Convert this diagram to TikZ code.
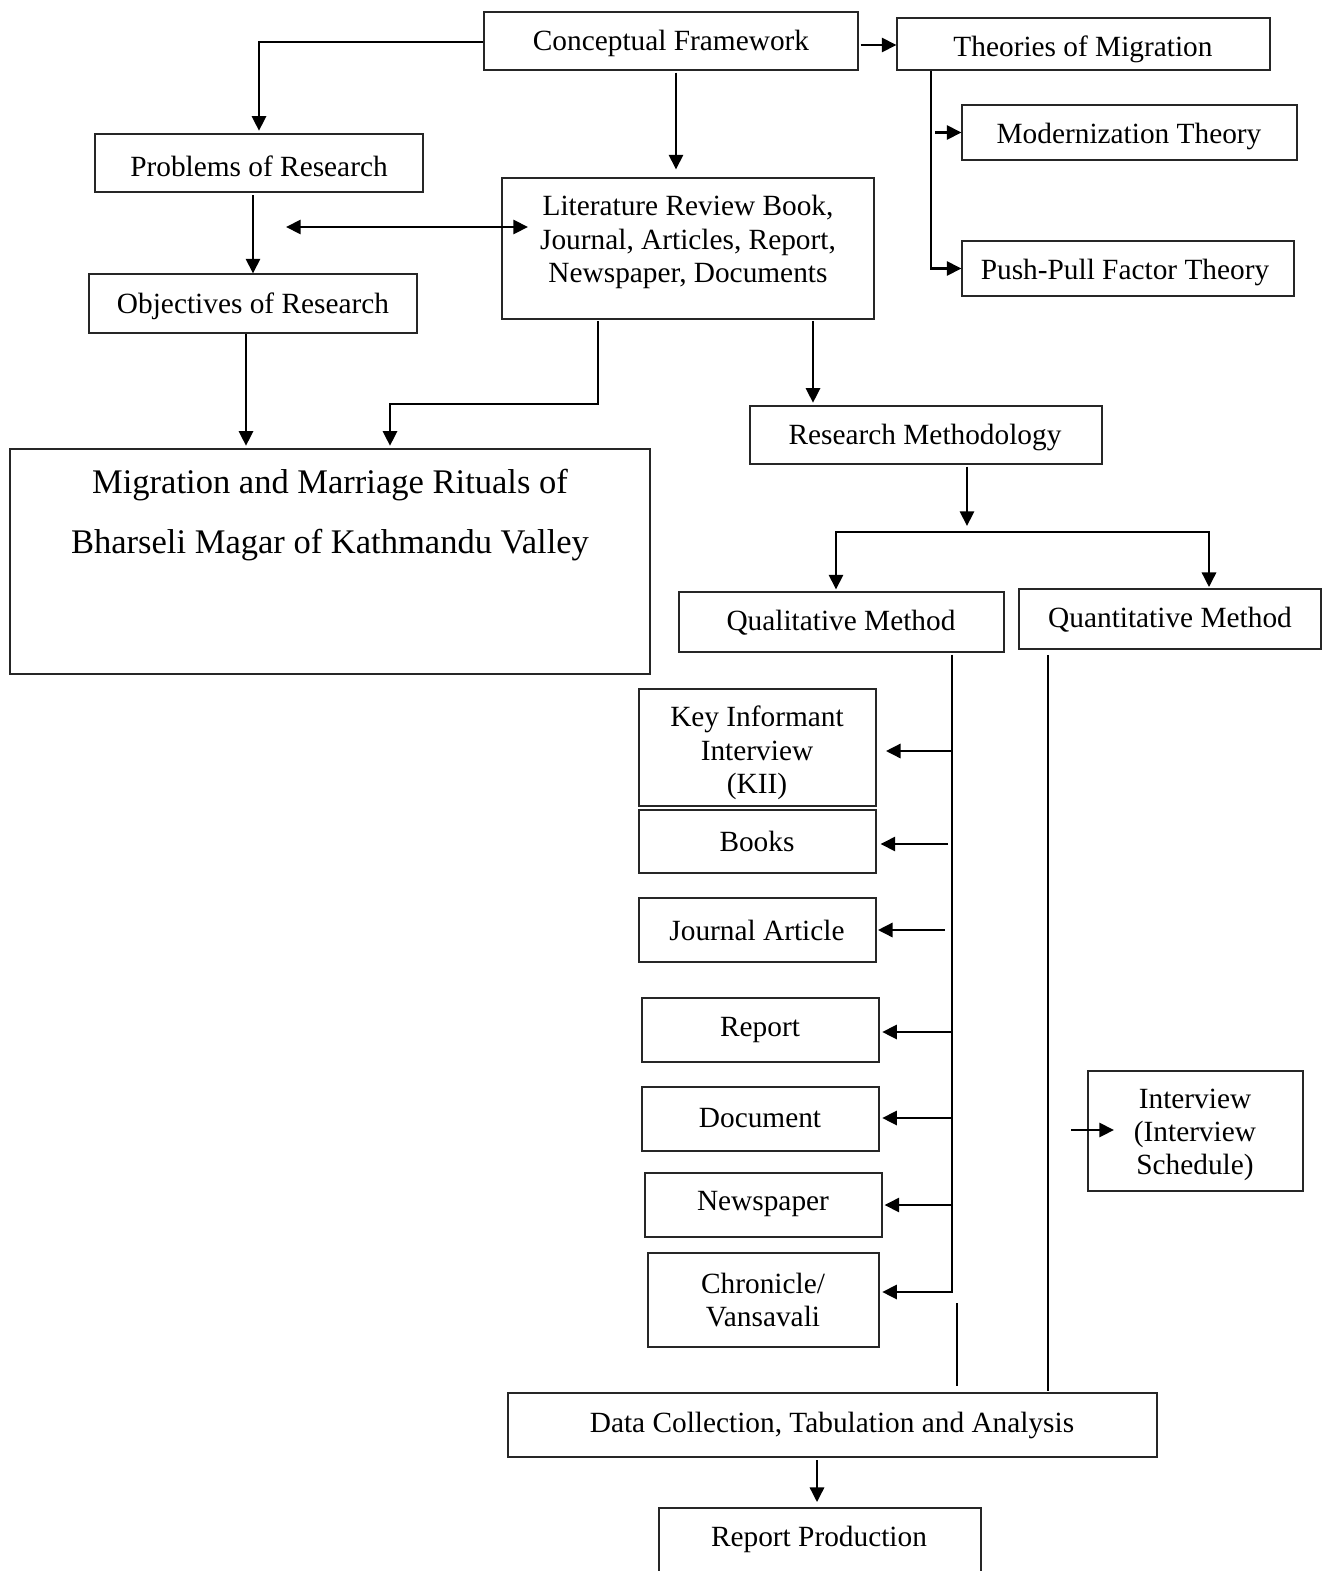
\documentclass[tikz,border=0pt]{standalone}
\usepackage{fontspec}
\setmainfont{Liberation Serif}
\usetikzlibrary{fit,arrows.meta}
\begin{document}
\begin{tikzpicture}[x=0.75pt,y=-0.75pt,
  box/.style={draw=black!85,line width=0.8pt,inner sep=0pt},
  txt/.style={inner sep=0pt,align=center,font=\fontsize{22}{25}\selectfont},
  conn/.style={line width=2.2pt,black},
  arr/.style={conn,-{Triangle[length=11pt,width=10.5pt]}},
  darr/.style={conn,{Triangle[length=11pt,width=10.5pt]}-{Triangle[length=11pt,width=10.5pt]}}]
\useasboundingbox (0,0) rectangle (1331,1571);
% boxes
\node[box,fit={(484,12)(858,70)}] (cf) {};
\node[txt] (cfT) at (671,43) {Conceptual Framework};
\node[box,fit={(897,18)(1270,70)}] (theo) {};
\node[txt] (theoT) at (1083,49) {Theories of Migration};
\node[box,fit={(962,105)(1297,160)}] (mod) {};
\node[txt] (modT) at (1129,136) {Modernization Theory};
\node[box,fit={(962,241)(1294,296)}] (push) {};
\node[txt] (pushT) at (1125,272) {Push-Pull Factor Theory};
\node[box,fit={(95,134)(423,192)}] (prob) {};
\node[txt] (probT) at (259,166) {Problems of Research};
\node[box,fit={(502,178)(874,319)}] (lit) {};
\node[txt] (litT) at (688,242) {Literature Review Book,\\Journal, Articles, Report,\\Newspaper, Documents};
\node[box,fit={(89,274)(417,333)}] (obj) {};
\node[txt] (objT) at (253,306) {Objectives of Research};
\node[box,fit={(10,449)(650,674)}] (mig) {};
\node[txt,font=\fontsize{25.9}{45}\selectfont] (migT) at (330,515) {Migration and Marriage Rituals of\\Bharseli Magar of Kathmandu Valley};
\node[box,fit={(750,406)(1102,464)}] (rm) {};
\node[txt] (rmT) at (925,437) {Research Methodology};
\node[box,fit={(679,592)(1004,652)}] (qual) {};
\node[txt] (qualT) at (841,623) {Qualitative Method};
\node[box,fit={(1019,589)(1321,649)}] (quan) {};
\node[txt] (quanT) at (1170,620) {Quantitative Method};
\node[box,fit={(639,689)(876,806)}] (kii) {};
\node[txt] (kiiT) at (757,753) {Key Informant\\Interview\\(KII)};
\node[box,fit={(639,810)(876,873)}] (books) {};
\node[txt] (booksT) at (757,841) {Books};
\node[box,fit={(639,898)(876,962)}] (jour) {};
\node[txt] (jourT) at (757,930) {Journal Article};
\node[box,fit={(642,998)(879,1062)}] (rep) {};
\node[txt] (repT) at (760,1030) {Report};
\node[box,fit={(642,1087)(879,1151)}] (doc) {};
\node[txt] (docT) at (760,1118) {Document};
\node[box,fit={(645,1173)(882,1237)}] (news) {};
\node[txt] (newsT) at (763,1204) {Newspaper};
\node[box,fit={(648,1253)(879,1347)}] (chron) {};
\node[txt] (chronT) at (763,1300) {Chronicle/\\Vansavali};
\node[box,fit={(1088,1071)(1303,1191)}] (intv) {};
\node[txt] (intvT) at (1195,1135) {Interview\\(Interview\\Schedule)};
\node[box,fit={(508,1393)(1157,1457)}] (data) {};
\node[txt] (dataT) at (832,1425) {Data Collection, Tabulation and Analysis};
\node[box,fit={(659,1508)(981,1590)}] (rp) {};
\node[txt] (rpT) at (819,1539) {Report Production};
% helper coordinates
\coordinate (c676) at (676,0);
\coordinate (c931) at (931,0);
\coordinate (c934) at (935,0);
\coordinate (c253) at (253,0);
\coordinate (c246) at (246,0);
\coordinate (c598) at (598,0);
\coordinate (k1) at (390,404);
\coordinate (c813) at (813,0);
\coordinate (bj) at (967,526);
\coordinate (bl) at (836,532);
\coordinate (br) at (1209,532);
\coordinate (q1) at (952,1292);
\coordinate (a1) at (952,751);
\coordinate (a2) at (948,844);
\coordinate (a3) at (945,930);
\coordinate (a4) at (952,1032);
\coordinate (a5) at (952,1118);
\coordinate (a6) at (952,1205);
\coordinate (s1) at (957,1303);
\coordinate (c1048) at (1048,0);
\coordinate (ia) at (1071,1130);
\coordinate (ib) at (1114,1130);
\coordinate (c817) at (817,0);
\coordinate (dl) at (286,227);
\coordinate (dr) at (528,227);
% connectors
\draw[arr,shorten >=2pt] (cf.west |- 0,42) -| (prob.north);
\draw[arr,shorten <=1.5pt,shorten >=6pt] (cf.south -| c676) -- (lit.north -| c676);
\draw[arr,shorten <=1.5pt] (cf.east |- 0,45) -- (theo.west |- 0,45);
\draw[arr] (theo.south -| c931) |- (push.west);
\draw[arr] (c934 |- mod.west) -- (mod.west);
\draw[arr,shorten <=2pt] (prob.south -| c253) -- (obj.north -| c253);
\draw[darr] (dl) -- (dr);
\draw[arr,shorten >=2pt] (obj.south -| c246) -- (mig.north -| c246);
\draw[arr,shorten <=1pt,shorten >=2pt] (lit.south -| c598) |- (k1) -- (mig.north -| k1);
\draw[arr,shorten <=1pt,shorten >=2pt] (lit.south -| c813) -- (rm.north -| c813);
\draw[arr,shorten <=1.5pt] (rm.south -| bj) -- (bj);
\draw[darr,shorten <=1.5pt,shorten >=1pt] (qual.north -| bl) |- (br) -- (quan.north -| br);
\draw[arr,shorten <=1.5pt,shorten >=2pt] (qual.south -| q1) -- (q1) -- (chron.east |- q1);
\draw[arr,shorten >=7pt] (a1) -- (kii.east |- a1);
\draw[arr,shorten >=3pt] (a2) -- (books.east |- a2);
\draw[arr,shorten >=1pt] (a3) -- (jour.east |- a3);
\draw[arr,shorten >=2pt] (a4) -- (rep.east |- a4);
\draw[arr,shorten >=2pt] (a5) -- (doc.east |- a5);
\draw[arr,shorten >=1.5pt] (a6) -- (news.east |- a6);
\draw[conn,shorten >=5pt] (s1) -- (data.north -| s1);
\draw[conn,shorten <=4pt,shorten >=1pt] (quan.south -| c1048) -- (data.north -| c1048);
\draw[arr] (ia) -- (ib);
\draw[arr,shorten <=2pt,shorten >=4pt] (data.south -| c817) -- (rp.north -| c817);
\end{tikzpicture}
\end{document}
